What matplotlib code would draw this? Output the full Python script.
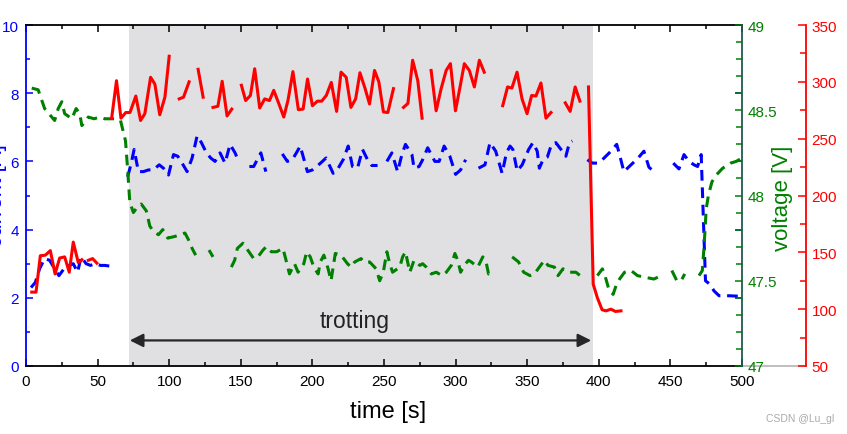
import matplotlib
matplotlib.use('Agg')
import matplotlib.pyplot as plt
import numpy as np
from matplotlib.ticker import MultipleLocator

plt.rcParams['font.family'] = ['Liberation Sans', 'DejaVu Sans']

nan = np.nan

# (time [s], current [A])
current_pts = [
    (3.5, 2.3), (6.5, 2.45), (9.5, 2.85), (13, 3.15), (16.5, 3.1), (20, 2.85), (23, 2.65),
    (26.5, 2.85), (30, 2.95), (33, 3.0), (36, 2.75), (38.5, 3.2), (42, 3.0), (45, 2.95),
    (48.5, 3.0), (52, 2.95), (55, 2.95), (58.5, 2.93), (65, nan),
    (71, 5.55), (73.5, 5.95), (75.5, 6.35), (78.5, 5.7), (82, 5.7), (85.5, 5.75), (89, 5.75),
    (93, 5.9), (96, 5.8), (99.5, 5.6), (103, 6.2), (106, 6.15), (109, 5.95), (112.5, 5.7),
    (116, 6.1), (119.5, 6.75), (122.5, 6.55), (126, 6.25), (129, 6.1), (132, 6.0), (135.5, 6.25),
    (139, 5.95), (142.5, 6.5), (146, 6.25), (148, 6.05), (151, nan), (156, 5.85), (159, 5.85),
    (161.5, 6.05), (164, 6.25), (167.5, 5.7), (173, nan), (179, 6.22), (182.5, 6.0), (186, 6.05),
    (189.5, 6.3), (191.5, 6.45), (196.5, 5.7), (200, 5.75), (203, 5.85), (207, 6.0), (209.5, 6.1),
    (214.5, 5.65), (218, 5.8), (221.5, 6.05), (225, 6.45), (228, 5.85), (231.5, 5.8), (235, 6.35),
    (238.5, 6.05), (241.5, 5.88), (245.5, 5.88), (249, nan), (252, 6.0), (255.5, 6.25),
    (259.5, 5.7), (262.5, 6.2), (265, 6.5), (269.5, 6.2), (271, 5.8), (274.5, 5.85), (277, 6.05),
    (280.5, 6.4), (285.5, 6.0), (288.5, 6.0), (292, 6.45), (296, 6.15), (300, 5.62), (303.5, 5.75),
    (307, 6.05), (311, nan), (316, 5.8), (320.5, 5.9), (324, 6.55), (328, 6.3), (332.5, 5.65),
    (335.5, 6.25), (338, 6.45), (340, 6.35), (343, 5.72), (346.5, 5.9), (351, 6.35), (354, 6.55),
    (357, 6.3), (358.5, 5.8), (361, 6.05), (364, 6.12), (367, 6.5), (370, 6.55), (374.5, 6.3),
    (377, 6.15), (379.5, 6.55), (381.5, 6.6), (386, nan), (392, 6.05), (395.5, 5.95), (399, 5.95),
    (402.5, 6.05), (408.5, 6.3), (412.5, 6.5), (414.5, 6.2), (417.5, 5.7), (422.5, 5.9),
    (427.5, 6.1), (431.5, 6.3), (435, 5.83), (438.5, 5.7), (445, nan), (452, 5.95), (456, 5.78),
    (459.5, 6.2), (463, 6.0), (466.5, 5.9), (469, 5.85), (471.5, 6.2), (474.5, 2.5), (477.5, 2.4),
    (480.5, 2.2), (484, 2.06), (491, 2.06), (496, 2.05), (500, 2.05),
]

# (time [s], voltage [V])
voltage_pts = [
    (4, 48.63), (8.5, 48.62), (13, 48.51), (17, 48.47), (20, 48.44), (22.5, 48.51), (25, 48.55),
    (27, 48.48), (32, 48.45), (35, 48.51), (37.5, 48.48), (39, 48.41), (43.5, 48.46), (47.5, 48.45),
    (51.5, 48.46), (55, 48.45), (58.5, 48.45), (62, 48.45), (66, 48.44), (69.5, 48.32), (71, 48.15),
    (72.5, 47.96), (75, 47.90), (77.5, 47.93), (80.5, 47.95), (84, 47.91), (86.5, 47.82),
    (89, 47.79), (92.5, 47.77), (95.5, 47.80), (99, 47.75), (104, 47.76), (107.5, 47.77),
    (111, 47.78), (113.5, 47.74), (116, 47.69), (118.5, 47.65), (123, nan), (127.8, 47.68),
    (130.6, 47.64), (137, nan), (143.4, 47.58), (145.7, 47.62), (147.6, 47.69), (151.5, 47.72),
    (155.7, 47.67), (159, 47.63), (162, 47.64), (165.5, 47.68), (167.8, 47.70), (171.3, 47.67),
    (175, 47.67), (179.4, 47.69), (181.3, 47.63), (184, 47.54), (187.5, 47.60), (190, 47.55),
    (194, 47.60), (196, 47.67), (198.5, 47.64), (201, 47.58), (204, 47.54), (205.5, 47.61),
    (208, 47.65), (211, 47.57), (213, 47.50), (216, 47.66), (220, 47.65), (224.5, 47.60),
    (227, 47.58), (229.5, 47.61), (234, 47.63), (236, 47.61), (240, 47.61), (244.5, 47.57),
    (247, 47.50), (249.5, 47.55), (252, 47.67), (254, 47.60), (256, 47.55), (261, 47.58),
    (263, 47.64), (265, 47.67), (268, 47.55), (271, 47.62), (275, 47.59), (277, 47.60),
    (279.5, 47.58), (283, 47.54), (286.5, 47.55), (290.5, 47.53), (293.5, 47.55), (297, 47.59),
    (299.5, 47.66), (301.5, 47.62), (303.5, 47.55), (306, 47.59), (309, 47.62), (311, 47.61),
    (315.5, 47.58), (319, 47.64), (321.3, 47.61), (323, 47.54), (327, 47.56), (333, nan),
    (339.5, 47.64), (344, 47.61), (347.5, 47.55), (352, 47.53), (355, 47.54), (358.5, 47.58),
    (362, 47.62), (364.5, 47.59), (369, 47.58), (371.5, 47.53), (375, 47.57), (379.5, 47.55),
    (384, 47.55), (387, 47.53), (393, nan), (399, 47.53), (402.5, 47.57), (405, 47.51),
    (407, 47.45), (410, 47.42), (412, 47.47), (414.5, 47.51), (418, 47.55), (422.5, 47.56),
    (427, 47.53), (432.5, 47.52), (438.5, 47.51), (443.5, 47.53), (447, nan), (451, 47.56),
    (454.5, 47.50), (457.5, 47.50), (460, 47.54), (465, nan), (470, 47.53), (472.3, 47.56),
    (473.5, 47.70), (475, 47.92), (476.5, 48.00), (479, 48.08), (482, 48.12), (486.5, 48.16),
    (492, 48.19), (496, 48.20), (500, 48.22),
]

# (time [s], power [W])
power_pts = [
    (4, 115), (7, 115), (10, 147), (13.5, 147.5), (17, 151.5), (20.3, 131), (23.5, 145), (27, 146),
    (30.2, 132.5), (33, 159), (36.5, 141), (39, 143.5), (41, nan), (43.5, 143), (46.5, 144.5),
    (49.5, 140.5), (55, nan),
    (59.8, 268), (63.2, 301), (66.3, 268), (69.7, 273), (72.6, 273), (76.7, 287.5), (80, 266),
    (83, 272), (87, 304), (90, 298), (93.4, 271), (97, 286.5), (100, 322.5), (103.5, nan),
    (107, 285), (110, 286.5), (113.9, 300), (117, nan), (120.2, 311), (123.7, 286.5), (127, nan),
    (130.6, 277.5), (134, 278.5), (137, 300.5), (140.4, 270), (143.7, 276), (147, nan),
    (150.4, 297), (153.4, 283.5), (156.7, 288), (159.7, 311.5), (163.2, 277), (166.7, 285),
    (170, 283.5), (173, 292.5), (176.5, 281), (180, 269), (183, 284), (186.4, 309), (190.2, 275.5),
    (193.5, 276), (196.6, 302.5), (200, 279), (203.5, 283), (206.5, 283), (209.7, 288),
    (213.2, 299.5), (216.9, 274), (220, 308.5), (223.6, 304), (226.9, 277.5), (230.2, 285),
    (233.2, 308), (236.7, 294.5), (239.9, 280.5), (243.4, 310), (246.4, 300), (249.6, 273.5),
    (252.7, 273), (256.6, 294), (260, nan), (263.6, 277.5), (266.7, 281), (270, 319), (273.6, 301),
    (276.6, 268), (279.7, nan), (282.9, 310), (286.4, 274.5), (289.9, 294), (293.4, 310),
    (296.4, 316), (299.9, 274.5), (303.1, 295.5), (306.1, 316), (309.6, 310), (313.1, 295.5),
    (316.6, 319), (320, 308.5), (326, nan), (332.9, 279), (336.3, 295.5), (339.3, 294.5),
    (342.9, 308.5), (346.4, 285), (349.9, 272), (353.1, 288), (356.1, 287.5), (359.6, 299),
    (363.1, 268), (366.6, 273), (371, nan), (376.6, 281.5), (380, 274), (383.5, 295.5),
    (386.8, 283), (389.8, nan), (392.8, 295.5), (396.1, 122), (399, 110), (402.3, 99.5),
    (405, 98.5), (408.5, 100), (411.5, 98), (415.5, 98.5),
]

trot_start, trot_end = 72, 396

t_cur, cur = np.array(current_pts).T
t_volt, volt = np.array(voltage_pts).T
t_pow, pw = np.array(power_pts).T

blue, green, red = '#0000ff', '#008000', '#ff0000'
dash = (0, (3.5, 2.2))

fig = plt.figure(figsize=(8.47, 4.35), dpi=100)
ax = fig.add_axes([26/847, 1-367/435, 716/847, 341/435])
ax2 = ax.twinx()
ax3 = ax.twinx()

ax.axvspan(trot_start, trot_end, color='#e0e0e3', lw=0, zorder=0)
ax.plot(t_cur, cur, color=blue, lw=2.2, ls=dash)
ax2.plot(t_volt, volt, color=green, lw=2.2, ls=dash)
ax3.plot(t_pow, pw, color=red, lw=2.2)

ax.annotate('', xy=(72.5, 0.75), xytext=(394.7, 0.75),
            arrowprops=dict(arrowstyle='<|-|>', color='#262626', lw=1.6,
                            mutation_scale=20, shrinkA=0, shrinkB=0))
ax.text(229.5, 1.33, 'trotting', fontsize=16.5, ha='center', va='center', color='#222222')

# main axes: time / current
ax.set_xlim(0, 500)
ax.set_ylim(0, 10)
ax.xaxis.set_major_locator(MultipleLocator(50))
ax.xaxis.set_minor_locator(MultipleLocator(25))
ax.yaxis.set_major_locator(MultipleLocator(2))
ax.yaxis.set_minor_locator(MultipleLocator(1))
ax.tick_params(axis='x', which='both', direction='in', top=True, labelsize=11, pad=6, width=1.1)
ax.tick_params(axis='x', which='major', length=5)
ax.tick_params(axis='x', which='minor', length=3)
ax.tick_params(axis='y', which='both', direction='in', colors=blue, labelsize=11, pad=5, width=1.1)
ax.tick_params(axis='y', which='major', length=5, right=True)
ax.tick_params(axis='y', which='minor', length=3)
ax.spines['left'].set_color(blue)
ax.spines['right'].set_visible(False)
for s in ['top', 'bottom', 'left']:
    ax.spines[s].set_linewidth(1.3)

# voltage axis
ax2.set_ylim(47, 49)
ax2.set_yticks([47, 47.5, 48, 48.5, 49], labels=['47', '47.5', '48', '48.5', '49'])
ax2.yaxis.set_minor_locator(MultipleLocator(0.1))
ax2.tick_params(axis='y', which='both', direction='in', colors=green, labelsize=11, pad=4, width=1.1)
ax2.tick_params(axis='y', which='major', length=5)
ax2.tick_params(axis='y', which='minor', length=4)
for s in ['left', 'top', 'bottom']:
    ax2.spines[s].set_visible(False)
ax2.spines['right'].set_color('#1f5a4f')
ax2.spines['right'].set_linewidth(1.3)

# power axis
ax3.set_ylim(50, 350)
ax3.yaxis.set_major_locator(MultipleLocator(50))
ax3.yaxis.set_minor_locator(MultipleLocator(25))
ax3.spines['right'].set_position(('axes', (806-26)/716))
ax3.tick_params(axis='y', which='both', direction='in', colors=red, labelsize=11, pad=4, width=1.1)
ax3.tick_params(axis='y', which='major', length=6)
ax3.tick_params(axis='y', which='minor', length=4)
for s in ['left', 'top', 'bottom']:
    ax3.spines[s].set_visible(False)
ax3.spines['right'].set_color(red)
ax3.spines['right'].set_linewidth(1.3)
ax.plot([1, (806-26)/716], [0, 0], transform=ax.transAxes, clip_on=False,
        color='#b4b4b4', lw=1.2)

fig.text(388.5/847, 1-412/435, 'time [s]', fontsize=17, ha='center', va='center')
fig.text(782/847, 1-198/435, 'voltage [V]', rotation=90, color=green, fontsize=16,
         ha='center', va='center')
# label sits mostly outside the canvas, as in the source image
fig.text(-3/847, 1-196/435, 'current [A]', rotation=90, color=blue, fontsize=16,
         ha='center', va='center')
fig.text(800/847, 1-419/435, 'CSDN @Lu_gl', fontsize=7.5, color='#aaaaaa', ha='center', va='center')

fig.savefig('out.png', dpi=100)
